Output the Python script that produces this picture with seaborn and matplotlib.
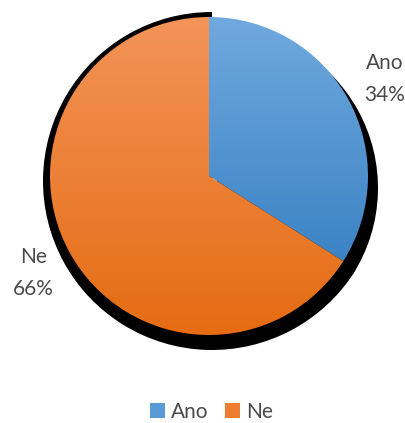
import numpy as np
import matplotlib
matplotlib.use("Agg")
import matplotlib.pyplot as plt
import seaborn as sns
from matplotlib.patches import Patch
from matplotlib.colors import LinearSegmentedColormap

# answer shares (percent)
categories = ["Ano", "Ne"]
shares = [34, 66]
top_colors = ["#70a9de", "#f39459"]
bottom_colors = ["#3c83c5", "#e56c12"]
legend_colors = ["#5b9bd5", "#ed7d31"]
text_color = "#4a4a4a"

sns.set_theme(style="white")
plt.rcParams["font.family"] = ["Lato", "DejaVu Sans"]

W, H = 405, 423
fig = plt.figure(figsize=(W / 100, H / 100), dpi=100)
ax = fig.add_axes([0, 0, 1, 1])

cx, cy, r = 209, H - 176, 159

# black drop shadow behind each slice, shifted and slightly enlarged
shadow_specs = [((cx + 8, cy - 12), 161), ((cx + 3, cy - 5), 169)]
for i, (c, rr) in enumerate(shadow_specs):
    cols = ["none"] * len(shares)
    cols[i] = "black"
    ax.pie(shares, colors=cols, startangle=90, counterclock=False,
           center=c, radius=rr, wedgeprops=dict(linewidth=0), frame=True)

labels = [f"{c}\n{v}%" for c, v in zip(categories, shares)]
wedges, texts = ax.pie(shares, labels=labels, colors=["none"] * len(shares),
                       startangle=90, counterclock=False, center=(cx, cy),
                       radius=r, labeldistance=1.26,
                       wedgeprops=dict(linewidth=0), frame=True,
                       textprops=dict(color=text_color, fontsize=15))

# vertical gradient fill clipped to each slice
grad = np.linspace(0, 1, 256).reshape(-1, 1)
for w, ctop, cbot in zip(wedges, top_colors, bottom_colors):
    bb = w.get_path().get_extents()
    cmap = LinearSegmentedColormap.from_list("g", [cbot, ctop])
    im = ax.imshow(grad, extent=(bb.x0, bb.x1, bb.y0, bb.y1), origin="lower",
                   cmap=cmap, aspect="auto", interpolation="bicubic",
                   zorder=w.get_zorder())
    im.set_clip_path(w)

for t in texts:
    t.set_ha("center")
    t.set_va("center")
    t.set_linespacing(1.75)

handles = [Patch(facecolor=c, edgecolor="none", label=cat)
           for c, cat in zip(legend_colors, categories)]
ax.legend(handles=handles, loc="lower center", bbox_to_anchor=(0.522, 0.003),
          ncol=2, frameon=False, fontsize=15, handlelength=0.7,
          handleheight=0.7, handletextpad=0.3, columnspacing=0.8,
          borderpad=0, borderaxespad=0, labelcolor=text_color)

ax.set_xlim(0, W)
ax.set_ylim(0, H)
ax.set_aspect("auto")
ax.axis("off")

fig.savefig("out.png", dpi=100, facecolor="white")
